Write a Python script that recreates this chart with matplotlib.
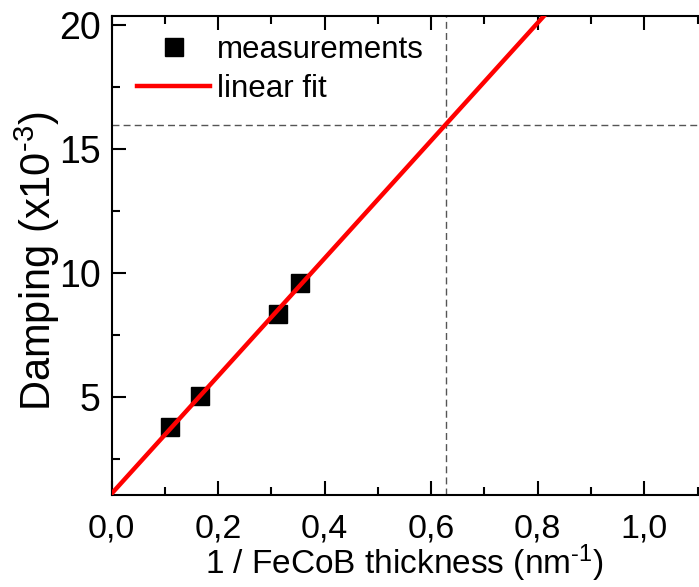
import numpy as np
import matplotlib
matplotlib.use('Agg')
import matplotlib.pyplot as plt
from matplotlib.ticker import MultipleLocator, FuncFormatter

plt.rcParams['font.family'] = ['Liberation Sans', 'DejaVu Sans']
plt.rcParams['mathtext.fontset'] = 'custom'
plt.rcParams['mathtext.rm'] = 'Liberation Sans'
plt.rcParams['mathtext.default'] = 'regular'

# measured points
inv_thickness = [0.1095, 0.166, 0.312, 0.354]
damping = [3.80, 5.05, 8.36, 9.61]

# linear fit end points
fit_x = [0.0, 0.85]
fit_y = [1.1, 21.29]

# guide lines
guide_x = 0.628
guide_y = 16.0

fig = plt.figure(figsize=(6.99, 5.87), dpi=100)
ax = fig.add_axes([111.5/699, 1 - 495/587, (697.5-111.5)/699, (495-15.5)/587])

ax.axvline(guide_x, color='#555555', lw=1.0, ls=(0, (5, 3)), zorder=1)
ax.axhline(guide_y, color='#555555', lw=1.0, ls=(0, (5, 3)), zorder=1)
ax.plot(inv_thickness, damping, 's', color='k', ms=12.5, label='measurements', zorder=2)
ax.plot(fit_x, fit_y, '-', color='#ff0000', lw=3.2, label='linear fit', zorder=3)

ax.set_xlim(0, 1.1)
ax.set_ylim(1.05, 20.4)
ax.xaxis.set_major_locator(MultipleLocator(0.2))
ax.xaxis.set_minor_locator(MultipleLocator(0.1))
ax.yaxis.set_major_locator(MultipleLocator(5))
ax.yaxis.set_minor_locator(MultipleLocator(2.5))
ax.xaxis.set_major_formatter(FuncFormatter(lambda v, p: ('%.1f' % v).replace('.', ',')))
ax.tick_params(which='both', direction='in', top=True, right=False, width=1.5)
ax.tick_params(which='major', length=10)
ax.tick_params(which='minor', length=6)
ax.tick_params(axis='x', pad=13, labelsize=24.5)
ax.tick_params(axis='y', pad=8, labelsize=27)
ax.spines['right'].set_visible(False)
for s in ax.spines.values():
    s.set_linewidth(1.5)

ax.set_xlabel('1 / FeCoB thickness (nm$^{\\text{-}1}$)', fontsize=24, labelpad=-1)
ax.set_ylabel('Damping (x10$^{\\text{-}3}$)', fontsize=30)
ax.yaxis.set_label_coords(-0.084, 0.488)

ax.legend(loc='upper left', frameon=False, fontsize=22.5, handlelength=2.35,
          handletextpad=0.2, labelspacing=0.3, borderaxespad=0.3,
          bbox_to_anchor=(0.006, 1.005))

fig.savefig('out.png', dpi=100)
